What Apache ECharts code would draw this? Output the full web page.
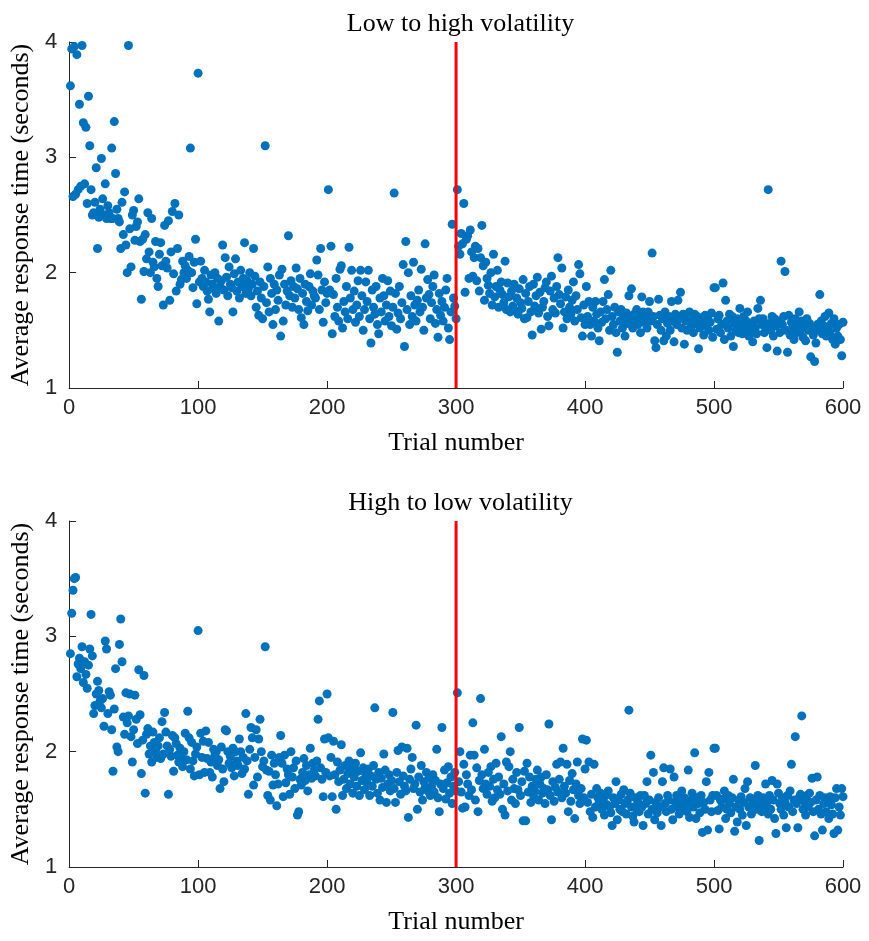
<!DOCTYPE html>
<html>
<head>
<meta charset="utf-8">
<script src="https://cdn.jsdelivr.net/npm/echarts@6/dist/echarts.min.js"></script>
<style>
  html, body { margin: 0; padding: 0; background: #fff; }
  #chart { width: 869px; height: 941px; }
</style>
</head>
<body>
<div id="chart"></div>
<script>
// Mean response time per trial, low-volatility block first (trials 1..600)
const lowToHighTimes = [
  3.62, 3.94, 2.66, 3.96, 2.68, 3.89, 2.72, 3.46, 2.75, 3.97,
  3.30, 2.77, 3.26, 2.60, 3.53, 3.10, 2.72, 2.50, 2.52, 2.61,
  2.91, 2.21, 2.48, 2.55, 2.99, 2.64, 2.50, 2.77, 2.47, 2.58,
  2.52, 2.47, 3.08, 2.47, 3.31, 2.86, 2.55, 2.47, 2.44, 2.21,
  2.61, 2.33, 2.70, 2.24, 2.00, 3.97, 2.38, 2.05, 2.50, 2.54,
  2.28, 2.40, 2.44, 2.64, 2.27, 1.77, 2.29, 2.01, 2.33, 2.12,
  2.52, 2.18, 2.00, 2.47, 2.09, 2.05, 2.27, 1.95, 1.88, 2.16,
  2.26, 2.06, 1.72, 2.41, 2.10, 2.04, 2.45, 1.76, 2.18, 2.53,
  1.99, 2.60, 1.84, 2.21, 2.50, 1.90, 1.94, 2.10, 2.00, 2.06,
  1.95, 2.02, 2.14, 3.08, 2.00, 1.87, 2.09, 2.29, 1.73, 3.73,
  1.92, 2.10, 1.95, 1.88, 2.02, 1.92, 1.84, 1.77, 1.66, 1.98,
  1.90, 1.86, 2.00, 1.82, 1.95, 1.58, 1.88, 1.93, 2.24, 1.85,
  2.13, 1.96, 1.80, 2.05, 1.90, 1.87, 1.66, 1.99, 2.12, 1.84,
  1.92, 1.78, 2.02, 1.88, 1.95, 2.26, 1.82, 1.93, 1.86, 2.00,
  1.80, 1.90, 2.21, 1.97, 1.70, 1.84, 1.63, 1.92, 1.78, 1.60,
  1.88, 3.10, 1.74, 2.05, 1.66, 1.95, 1.82, 1.55, 1.90, 1.68,
  1.85, 1.76, 1.98, 1.45, 2.03, 1.58, 1.90, 1.72, 1.84, 2.32,
  1.80, 1.93, 1.70, 1.88, 1.78, 2.04, 1.86, 1.68, 1.95, 1.61,
  1.82, 1.55, 1.90, 1.75, 1.67, 1.88, 1.99, 1.72, 1.84, 1.80,
  1.78, 2.11, 1.98, 1.68, 2.21, 1.85, 1.57, 1.92, 1.74, 1.82,
  2.72, 1.85, 2.23, 1.47, 1.81, 1.62, 1.95, 1.70, 1.58, 2.03,
  2.06, 1.52, 1.75, 1.66, 1.88, 1.60, 2.22, 1.78, 2.02, 1.68,
  1.84, 1.57, 1.72, 1.93, 1.62, 2.02, 1.80, 1.50, 1.68, 1.92,
  1.75, 2.02, 1.60, 1.39, 1.85, 1.70, 1.64, 1.88, 1.55, 1.47,
  1.78, 1.66, 1.95, 1.80, 1.58, 1.72, 1.93, 1.62, 1.84, 1.54,
  1.70, 2.69, 1.82, 1.51, 1.65, 1.88, 1.60, 1.74, 2.07, 1.36,
  2.27, 1.68, 2.00, 1.55, 1.80, 1.62, 2.09, 1.72, 1.58, 1.76,
  1.85, 1.66, 2.03, 1.70, 1.50, 2.25, 1.78, 1.94, 1.81, 1.60,
  1.74, 1.88, 1.98, 1.56, 1.68, 1.44, 1.82, 1.63, 1.75, 1.58,
  1.70, 1.85, 1.95, 1.52, 1.42, 1.66, 2.42, 1.78, 1.71, 1.60,
  2.72, 2.23, 2.16, 2.34, 2.25, 2.60, 1.83, 2.29, 2.32, 1.95,
  2.37, 2.18, 1.97, 2.13, 2.23, 1.93, 2.21, 1.84, 2.13, 2.41,
  2.06, 1.76, 2.09, 1.95, 1.89, 1.82, 2.00, 1.72, 2.16, 1.79,
  1.88, 2.02, 1.70, 1.85, 1.92, 1.81, 1.74, 2.10, 1.68, 1.91,
  1.79, 1.66, 1.84, 1.71, 1.90, 1.67, 1.78, 1.64, 1.86, 1.74,
  1.69, 1.94, 1.60, 1.82, 1.61, 1.75, 1.88, 1.66, 1.46, 1.90,
  1.71, 1.80, 1.96, 1.65, 1.83, 1.51, 1.70, 1.75, 1.87, 1.92,
  1.62, 1.54, 1.84, 1.97, 1.68, 1.78, 1.65, 1.88, 2.13, 1.81,
  1.73, 2.04, 1.52, 1.66, 1.79, 1.60, 1.85, 1.70, 1.64, 1.76,
  1.92, 1.58, 1.80, 1.68, 2.07, 1.99, 1.61, 1.45, 1.72, 1.55,
  1.88, 1.62, 1.75, 1.55, 1.45, 1.70, 1.58, 1.75, 1.64, 1.52,
  1.41, 1.66, 1.57, 1.75, 1.94, 1.60, 1.68, 1.81, 1.50, 2.02,
  1.62, 1.55, 1.70, 1.48, 1.31, 1.66, 1.58, 1.68, 1.52, 1.62,
  1.45, 1.65, 1.56, 1.80, 1.60, 1.86, 1.52, 1.64, 1.58, 1.68,
  1.55, 1.62, 1.48, 1.79, 1.66, 1.57, 1.60, 1.52, 1.66, 1.75,
  1.58, 2.17, 1.62, 1.41, 1.35, 1.55, 1.77, 1.63, 1.50, 1.60,
  1.41, 1.66, 1.45, 1.56, 1.62, 1.50, 1.75, 1.58, 1.40, 1.64,
  1.55, 1.76, 1.60, 1.83, 1.52, 1.64, 1.38, 1.58, 1.50, 1.62,
  1.66, 1.53, 1.60, 1.48, 1.64, 1.56, 1.62, 1.34, 1.52, 1.60,
  1.58, 1.46, 1.63, 1.54, 1.60, 1.50, 1.57, 1.65, 1.44, 1.87,
  1.87, 1.51, 1.60, 1.63, 1.48, 1.55, 1.91, 1.42, 1.76, 1.58,
  1.52, 1.64, 1.45, 1.62, 1.36, 1.56, 1.50, 1.60, 1.48, 1.69,
  1.55, 1.47, 1.62, 1.52, 1.58, 1.66, 1.45, 1.56, 1.50, 1.40,
  1.58, 1.52, 1.47, 1.69, 1.60, 1.76, 1.55, 1.60, 1.48, 1.53,
  1.35, 2.72, 1.56, 1.50, 1.62, 1.45, 1.60, 1.54, 1.32, 1.58,
  1.48, 2.10, 1.55, 1.62, 2.01, 1.50, 1.31, 1.63, 1.46, 1.57,
  1.52, 1.42, 1.60, 1.48, 1.55, 1.66, 1.50, 1.58, 1.44, 1.54,
  1.41, 1.60, 1.50, 1.56, 1.27, 1.52, 1.46, 1.23, 1.39, 1.55,
  1.50, 1.81, 1.58, 1.47, 1.54, 1.62, 1.45, 1.52, 1.65, 1.48,
  1.56, 1.42, 1.60, 1.38, 1.52, 1.45, 1.55, 1.42, 1.28, 1.57
];

// Mean response time per trial, high-volatility block first (trials 1..600)
const highToLowTimes = [
  2.85, 3.20, 3.40, 3.50, 3.51, 2.65, 2.76, 2.81, 2.72, 2.91,
  2.60, 2.78, 2.67, 2.55, 2.75, 2.89, 3.19, 2.83, 2.33, 2.40,
  2.50, 2.61, 2.53, 2.44, 2.38, 2.46, 2.22, 2.96, 2.89, 2.33,
  2.52, 2.49, 2.19, 1.83, 2.37, 2.72, 2.04, 2.00, 2.93, 3.15,
  2.78, 2.30, 2.15, 2.51, 2.25, 2.31, 2.50, 2.13, 1.91, 2.19,
  2.49, 2.28, 2.07, 2.71, 2.32, 1.81, 2.10, 2.66, 1.64, 2.15,
  2.20, 1.98, 2.05, 1.91, 2.17, 2.08, 2.01, 1.95, 2.05, 2.12,
  1.94, 2.26, 1.98, 2.34, 2.17, 2.05, 1.63, 2.02, 1.96, 2.14,
  1.83, 2.12, 2.07, 1.97, 1.91, 2.03, 1.95, 1.87, 2.00, 2.16,
  1.93, 2.35, 2.12, 1.85, 2.08, 1.92, 1.79, 1.98, 2.04, 3.05,
  1.80, 2.16, 1.95, 2.09, 1.82, 2.18, 1.94, 2.08, 1.82, 1.91,
  1.78, 2.02, 1.97, 2.00, 1.88, 1.93, 1.68, 2.04, 1.85, 1.74,
  2.19, 2.18, 2.00, 1.90, 1.96, 1.86, 2.03, 1.79, 2.00, 1.92,
  1.88, 2.11, 2.00, 1.81, 1.95, 1.85, 2.33, 1.92, 1.63, 2.02,
  2.21, 2.12, 1.71, 1.95, 2.19, 1.78, 2.11, 2.28, 2.00, 1.87,
  1.92, 2.91, 1.84, 1.62, 1.83, 1.58, 1.97, 1.71, 1.90, 1.80,
  1.53, 1.72, 1.95, 2.14, 1.90, 1.61, 1.97, 1.73, 1.85, 1.80,
  1.63, 2.00, 1.78, 1.86, 1.68, 1.92, 1.45, 1.48, 1.76, 1.71,
  1.82, 1.94, 1.75, 1.88, 1.66, 1.80, 2.03, 1.77, 1.90, 1.84,
  1.79, 1.92, 2.28, 2.44, 1.86, 1.76, 1.61, 2.11, 1.82, 2.50,
  2.12, 1.79, 1.95, 1.61, 2.09, 1.80, 1.50, 1.91, 1.74, 1.84,
  2.06, 1.62, 1.76, 1.88, 1.68, 1.81, 1.92, 1.72, 1.85, 1.64,
  1.78, 1.90, 1.70, 1.83, 1.62, 1.99, 1.75, 1.86, 1.67, 1.80,
  1.73, 1.85, 1.62, 1.79, 1.70, 1.88, 2.38, 1.76, 1.64, 1.82,
  1.58, 1.77, 1.69, 1.98, 1.84, 1.56, 1.72, 1.80, 1.66, 1.75,
  2.34, 1.68, 1.56, 1.82, 2.01, 1.74, 1.63, 2.04, 1.79, 1.70,
  1.66, 2.03, 1.43, 1.76, 1.85, 1.95, 1.68, 1.72, 2.23, 1.50,
  1.78, 1.65, 1.88, 1.58, 1.74, 1.69, 1.82, 1.66, 1.77, 1.62,
  1.70, 1.80, 1.65, 1.75, 2.02, 1.60, 1.48, 1.72, 2.21, 1.68,
  1.84, 1.59, 1.73, 1.87, 1.64, 1.78, 1.55, 1.70, 1.82, 1.66,
  2.51, 1.74, 2.00, 1.65, 1.51, 1.89, 1.52, 1.80, 1.72, 1.62,
  1.97, 1.67, 2.25, 1.97, 1.58, 1.86, 1.48, 1.75, 2.46, 1.80,
  1.68, 2.02, 1.72, 1.63, 1.82, 1.70, 1.87, 1.57, 1.76, 1.60,
  1.90, 1.67, 1.78, 1.63, 2.13, 1.50, 1.72, 1.45, 1.91, 1.66,
  1.87, 2.00, 1.58, 1.76, 1.68, 1.55, 1.82, 1.67, 2.21, 1.62,
  1.74, 1.40, 1.83, 1.40, 1.90, 1.65, 1.78, 1.56, 1.70, 1.62,
  1.66, 1.76, 1.84, 1.58, 1.72, 1.78, 1.64, 1.68, 1.55, 1.80,
  1.67, 2.24, 1.62, 1.41, 1.74, 1.57, 1.69, 1.89, 1.65, 1.76,
  1.91, 1.60, 2.03, 1.70, 1.64, 1.89, 1.48, 1.75, 1.57, 1.81,
  1.67, 1.42, 1.72, 1.91, 1.62, 1.55, 1.68, 2.11, 1.60, 1.85,
  2.10, 1.56, 1.91, 1.48, 1.63, 1.43, 1.89, 1.52, 1.68, 1.60,
  1.56, 1.64, 1.50, 1.58, 1.45, 1.62, 1.54, 1.66, 1.52, 1.47,
  1.36, 1.60, 1.55, 1.74, 1.41, 1.58, 1.50, 1.63, 1.48, 1.67,
  1.55, 1.46, 1.58, 2.36, 1.64, 1.52, 1.44, 1.39, 1.60, 1.50,
  1.56, 1.48, 1.62, 1.52, 1.36, 1.62, 1.55, 1.74, 1.46, 1.58,
  1.97, 1.50, 1.82, 1.41, 1.56, 1.47, 1.60, 1.52, 1.36, 1.74,
  1.86, 1.55, 1.48, 1.62, 1.58, 1.85, 1.50, 1.41, 1.78, 1.56,
  1.62, 1.52, 1.46, 1.58, 1.66, 1.50, 1.60, 1.54, 1.48, 1.84,
  1.43, 1.58, 1.64, 1.52, 1.99, 1.42, 1.60, 1.55, 1.47, 1.62,
  1.30, 1.56, 1.50, 1.74, 1.32, 1.82, 1.58, 1.48, 1.62, 2.03,
  2.03, 1.62, 1.49, 1.33, 1.58, 1.52, 1.59, 1.66, 1.42, 1.50,
  1.62, 1.55, 1.47, 1.60, 1.76, 1.31, 1.52, 1.39, 1.58, 1.50,
  1.61, 1.45, 1.56, 1.68, 1.36, 1.74, 1.52, 1.60, 1.46, 1.55,
  1.58, 1.88, 1.50, 1.62, 1.23, 1.55, 1.48, 1.60, 1.52, 1.72,
  1.56, 1.46, 1.62, 1.50, 1.75, 1.58, 1.42, 1.29, 1.72, 1.64,
  1.55, 1.50, 1.60, 1.45, 1.56, 1.34, 1.62, 1.52, 1.66, 1.89,
  1.48, 1.58, 2.13, 1.55, 1.34, 1.60, 1.63, 2.31, 1.50, 1.57,
  1.45, 1.62, 1.52, 1.64, 1.56, 1.77, 1.48, 1.27, 1.58, 1.78,
  1.50, 1.62, 1.46, 1.32, 1.55, 1.60, 1.48, 1.56, 1.42, 1.61,
  1.54, 1.46, 1.29, 1.60, 1.68, 1.32, 1.52, 1.45, 1.68, 1.61
];

const panelTitles = ['Low to high volatility', 'High to low volatility'];
const xTickValues = [0, 100, 200, 300, 400, 500, 600];
const yTickValues = [1, 2, 3, 4];
const switchTrial = 300;

const xLabelText = 'Trial number';
const yLabelText = 'Average response time (seconds)';

const pointsFor = vals => vals.map((v, i) => [i + 1, v]);

const axisGray = '#262626';
const serif = 'Liberation Serif';
const sans = 'Liberation Sans';
const serifSize = 26;
const tickSize = 22;

const panelTops = [42, 521];
const plotLeft = 68, plotWidth = 775, plotHeight = 346;

function xAxisFor(idx) {
  return {
    gridIndex: idx, type: 'value',
    min: xTickValues[0], max: xTickValues[xTickValues.length - 1], interval: 100,
    name: xLabelText, nameLocation: 'middle', nameGap: 42,
    nameTextStyle: { fontFamily: serif, fontSize: serifSize, color: '#000' },
    axisLine: { onZero: false, lineStyle: { color: axisGray, width: 1 } },
    axisTick: { inside: true, length: 7, lineStyle: { color: axisGray } },
    axisLabel: { fontFamily: sans, fontSize: tickSize, color: axisGray, margin: 9 },
    splitLine: { show: false }
  };
}
function yAxisFor(idx) {
  return {
    gridIndex: idx, type: 'value',
    min: yTickValues[0], max: yTickValues[yTickValues.length - 1], interval: 1,
    name: yLabelText, nameLocation: 'middle', nameGap: 35, nameRotate: 90,
    nameTextStyle: { fontFamily: serif, fontSize: serifSize, color: '#000' },
    axisLine: { show: true, onZero: false, lineStyle: { color: axisGray, width: 1 } },
    axisTick: { show: true, inside: true, length: 7, lineStyle: { color: axisGray } },
    axisLabel: { fontFamily: sans, fontSize: tickSize, color: axisGray, margin: 12 },
    splitLine: { show: false }
  };
}

const seriesData = [lowToHighTimes, highToLowTimes];
const series = [];
seriesData.forEach((vals, idx) => {
  series.push({
    type: 'scatter', xAxisIndex: idx, yAxisIndex: idx,
    data: pointsFor(vals), symbolSize: 9, clip: false,
    itemStyle: { color: '#0072BD', opacity: 1 }, z: 2
  });
  series.push({
    type: 'line', xAxisIndex: idx, yAxisIndex: idx,
    data: [[switchTrial, yTickValues[0]], [switchTrial, yTickValues[yTickValues.length - 1]]],
    symbol: 'none', lineStyle: { color: '#ff0000', width: 3 }, z: 3
  });
});

const chart = echarts.init(document.getElementById('chart'), null, { renderer: 'canvas' });
chart.setOption({
  animation: false,
  backgroundColor: '#ffffff',
  title: panelTitles.map((t, idx) => ({
    text: t, left: plotLeft + plotWidth / 2, top: panelTops[idx] - 36, textAlign: 'center',
    textStyle: { fontFamily: serif, fontSize: serifSize, fontWeight: 'normal', color: '#000' }
  })),
  grid: panelTops.map(top => ({ left: plotLeft, top: top, width: plotWidth, height: plotHeight, containLabel: false })),
  xAxis: [xAxisFor(0), xAxisFor(1)],
  yAxis: [yAxisFor(0), yAxisFor(1)],
  series: series
});
</script>
</body>
</html>
